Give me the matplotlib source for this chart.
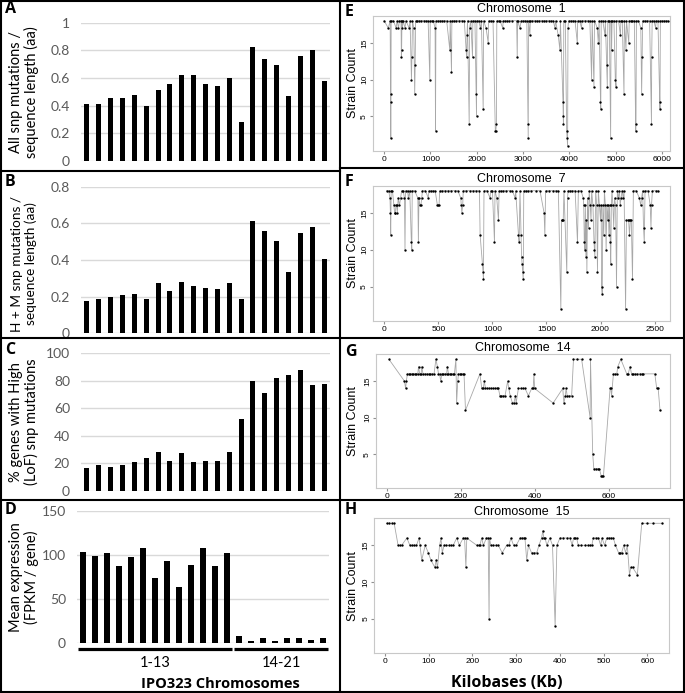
import matplotlib
matplotlib.use('Agg')
import matplotlib.pyplot as plt
import matplotlib.transforms as mtransforms
from matplotlib.lines import Line2D
import numpy as np

# Left column: per-chromosome values (chromosomes 1-21)
all_snp = [0.41, 0.41, 0.455, 0.455, 0.475, 0.395, 0.515, 0.555, 0.62, 0.625, 0.555,
           0.54, 0.60, 0.28, 0.825, 0.74, 0.695, 0.47, 0.76, 0.80, 0.58]
hm_snp = [0.178, 0.185, 0.20, 0.21, 0.215, 0.187, 0.273, 0.233, 0.278, 0.258, 0.247,
          0.244, 0.273, 0.189, 0.611, 0.558, 0.504, 0.335, 0.547, 0.582, 0.405]
high_lof = [16.3, 18.9, 17.5, 18.7, 21.1, 24.0, 27.9, 21.8, 27.2, 20.6, 21.6,
            21.6, 27.9, 52.2, 79.9, 70.9, 82.0, 84.0, 87.9, 76.9, 77.4]
mean_expr = [103.9, 98.6, 102.8, 88.0, 97.5, 107.7, 74.0, 92.9, 64.2, 88.8, 108.4,
             87.6, 102.4, 7.9, 2.6, 5.7, 3.0, 5.7, 6.0, 4.2, 6.4]
groups = ['1-13', '14-21']
group_sizes = [13, 8]

# Right column: (kilobase position, strain count)
chr1 = [(0, 18), (90, 17), (130, 18), (140, 8), (144, 2), (148, 7), (152, 18), (200, 18),
        (260, 17), (280, 18), (310, 17), (330, 18), (365, 18), (372, 13), (378, 14), (385, 18),
        (395, 17), (410, 18), (450, 17), (470, 18), (540, 17), (560, 18), (590, 10), (600, 13),
        (612, 18), (640, 17), (660, 8), (670, 12), (680, 18), (720, 18), (760, 18), (800, 18),
        (850, 18), (900, 18), (950, 18), (986, 10), (995, 18), (1030, 18), (1060, 18), (1100, 17),
        (1109, 3), (1118, 18), (1160, 18), (1200, 18), (1250, 18), (1300, 18), (1350, 18),
        (1418, 14), (1426, 18), (1454, 11), (1462, 18), (1510, 18), (1560, 18), (1620, 18),
        (1680, 18), (1730, 18), (1770, 14), (1780, 13), (1790, 16), (1800, 18), (1836, 4),
        (1845, 17), (1870, 18), (1908, 13), (1915, 18), (1960, 18), (1985, 8), (1994, 5),
        (2002, 18), (2040, 18), (2080, 17), (2100, 18), (2138, 6), (2146, 18), (2200, 17),
        (2246, 15), (2255, 18), (2300, 18), (2350, 18), (2400, 3), (2410, 3), (2425, 4),
        (2432, 18), (2470, 18), (2500, 18), (2560, 17), (2570, 18), (2610, 18), (2650, 18),
        (2700, 18), (2750, 18), (2860, 18), (2873, 13), (2880, 18), (2930, 17), (2960, 18),
        (3000, 18), (3040, 18), (3080, 18), (3105, 4), (3110, 2), (3118, 18), (3146, 16),
        (3155, 18), (3200, 18), (3250, 18), (3300, 18), (3350, 18), (3400, 18), (3450, 18),
        (3500, 18), (3550, 18), (3600, 18), (3650, 18), (3686, 17), (3700, 18), (3758, 16),
        (3794, 14), (3805, 18), (3860, 7), (3865, 5), (3870, 4), (3878, 18), (3910, 18),
        (3940, 3), (3950, 2), (3960, 1), (3968, 17), (3980, 18), (4030, 18), (4080, 18),
        (4120, 18), (4169, 15), (4178, 18), (4220, 18), (4260, 17), (4270, 18), (4330, 18),
        (4400, 18), (4440, 18), (4478, 10), (4490, 18), (4529, 9), (4540, 18), (4600, 17),
        (4622, 15), (4640, 18), (4670, 7), (4676, 6), (4685, 18), (4720, 18), (4766, 16),
        (4775, 18), (4802, 12), (4817, 9), (4828, 18), (4860, 18), (4889, 2), (4898, 18),
        (4910, 14), (4920, 18), (4960, 18), (4990, 10), (5005, 9), (5015, 18), (5060, 18),
        (5100, 16), (5110, 18), (5140, 18), (5177, 8), (5185, 18), (5220, 14), (5230, 18),
        (5280, 15), (5290, 18), (5320, 18), (5360, 18), (5400, 18), (5430, 3), (5436, 4),
        (5445, 18), (5490, 18), (5540, 17), (5558, 8), (5570, 13), (5580, 18), (5630, 18),
        (5680, 18), (5730, 18), (5770, 4), (5775, 13), (5785, 18), (5820, 18), (5860, 17),
        (5870, 18), (5910, 18), (5948, 7), (5954, 6), (5962, 18), (6000, 18), (6050, 18),
        (6090, 18), (6130, 18)]

chr7 = [(20, 18), (40, 18), (52, 17), (56, 15), (59, 12), (63, 18), (75, 18), (89, 16),
        (95, 15), (102, 15), (108, 16), (115, 16), (120, 15), (128, 17), (140, 16), (150, 17),
        (160, 18), (175, 18), (186, 17), (191, 10), (196, 18), (215, 18), (222, 17), (235, 18),
        (250, 11), (254, 10), (258, 18), (280, 18), (310, 17), (315, 11), (320, 17), (330, 16),
        (338, 16), (346, 17), (352, 18), (380, 18), (407, 17), (412, 18), (430, 18), (450, 18),
        (470, 18), (491, 16), (500, 16), (506, 16), (512, 18), (535, 18), (560, 18), (590, 18),
        (620, 18), (650, 18), (680, 18), (707, 17), (712, 16), (717, 15), (725, 16), (730, 18),
        (760, 18), (790, 18), (820, 18), (850, 18), (880, 18), (886, 12), (908, 8), (912, 7),
        (917, 6), (922, 18), (950, 18), (978, 17), (983, 18), (1000, 18), (1019, 11), (1024, 18),
        (1040, 17), (1056, 14), (1062, 18), (1080, 18), (1100, 18), (1130, 18), (1160, 18),
        (1185, 18), (1210, 17), (1215, 18), (1241, 12), (1247, 11), (1255, 18), (1265, 12),
        (1270, 9), (1275, 8), (1280, 7), (1285, 6), (1290, 18), (1310, 18), (1330, 18),
        (1360, 18), (1400, 18), (1440, 18), (1478, 15), (1485, 12), (1492, 18), (1520, 18),
        (1560, 18), (1590, 18), (1610, 18), (1633, 2), (1640, 14), (1648, 14), (1655, 14),
        (1662, 18), (1688, 7), (1695, 17), (1700, 18), (1720, 18), (1740, 18), (1765, 18),
        (1787, 11), (1795, 18), (1820, 18), (1840, 17), (1845, 16), (1850, 11), (1855, 10),
        (1860, 16), (1865, 9), (1870, 14), (1874, 7), (1880, 17), (1889, 13), (1895, 18),
        (1905, 16), (1912, 14), (1918, 18), (1930, 16), (1940, 11), (1944, 10), (1948, 9),
        (1955, 18), (1965, 16), (1972, 7), (1980, 18), (1990, 16), (2000, 14), (2006, 16),
        (2010, 5), (2016, 4), (2022, 16), (2030, 12), (2036, 18), (2045, 16), (2052, 10),
        (2058, 16), (2065, 14), (2072, 16), (2078, 12), (2084, 16), (2090, 11), (2095, 8),
        (2100, 16), (2106, 18), (2115, 16), (2122, 13), (2130, 17), (2140, 16), (2148, 5),
        (2156, 18), (2165, 17), (2175, 18), (2182, 16), (2190, 17), (2200, 18), (2210, 17),
        (2218, 18), (2232, 2), (2240, 14), (2250, 14), (2260, 14), (2268, 12), (2276, 14),
        (2285, 14), (2296, 6), (2304, 18), (2330, 18), (2360, 17), (2372, 16), (2380, 17),
        (2390, 18), (2398, 13), (2405, 11), (2412, 18), (2440, 18), (2460, 16), (2467, 13),
        (2472, 16), (2480, 18), (2510, 18), (2535, 18)]

chr14 = [(6, 18), (48, 15), (51, 14), (53, 15), (56, 16), (60, 16), (64, 16), (68, 16),
         (72, 16), (76, 16), (80, 16), (84, 16), (86, 17), (89, 16), (93, 16), (95, 17),
         (98, 16), (103, 16), (108, 16), (113, 16), (118, 16), (123, 16), (128, 16), (133, 18),
         (137, 17), (140, 16), (143, 16), (146, 15), (149, 16), (153, 16), (158, 16), (162, 16),
         (164, 17), (167, 16), (171, 16), (175, 16), (179, 16), (183, 16), (187, 18), (189, 12),
         (192, 15), (194, 16), (198, 16), (202, 16), (206, 16), (209, 16), (213, 11), (252, 16),
         (257, 14), (261, 14), (264, 15), (267, 14), (272, 14), (277, 14), (282, 14), (287, 14),
         (292, 14), (297, 14), (302, 14), (306, 13), (310, 13), (315, 13), (320, 13), (327, 15),
         (330, 14), (334, 13), (340, 12), (344, 12), (348, 13), (350, 12), (356, 14), (362, 14),
         (368, 14), (374, 14), (383, 13), (392, 14), (396, 14), (398, 16), (400, 14), (450, 12),
         (476, 14), (479, 12), (483, 13), (485, 14), (488, 13), (493, 13), (500, 13), (505, 18),
         (515, 18), (527, 18), (550, 10), (551, 18), (557, 5), (560, 3), (566, 3), (572, 3),
         (575, 3), (580, 2), (583, 2), (586, 2), (604, 14), (606, 14), (608, 13), (613, 16),
         (617, 16), (622, 16), (625, 17), (633, 18), (649, 16), (653, 16), (658, 17), (662, 16),
         (667, 16), (672, 16), (678, 16), (684, 16), (689, 16), (694, 16), (725, 16), (730, 14),
         (734, 14), (739, 11)]

chr15 = [(4, 18), (10, 18), (16, 18), (21, 18), (30, 15), (34, 15), (38, 15), (50, 16),
         (57, 15), (62, 15), (67, 15), (72, 15), (78, 16), (80, 15), (84, 13), (92, 15),
         (99, 14), (105, 13), (114, 12), (117, 13), (120, 12), (125, 15), (128, 16), (131, 14),
         (135, 15), (140, 15), (146, 15), (152, 15), (156, 15), (164, 16), (170, 15), (179, 16),
         (182, 16), (185, 12), (187, 16), (210, 15), (214, 15), (217, 15), (221, 16), (225, 15),
         (232, 16), (236, 16), (238, 5), (239, 16), (242, 15), (248, 15), (254, 15), (259, 15),
         (268, 14), (278, 15), (283, 15), (288, 16), (294, 15), (300, 15), (309, 16), (313, 16),
         (317, 16), (320, 16), (324, 13), (328, 15), (335, 14), (341, 14), (347, 14), (352, 15),
         (358, 16), (361, 17), (363, 16), (366, 16), (370, 15), (377, 16), (383, 15), (389, 4),
         (393, 15), (400, 16), (408, 16), (416, 16), (423, 16), (428, 15), (431, 16), (435, 16),
         (438, 16), (442, 15), (449, 15), (457, 15), (463, 15), (468, 15), (473, 15), (476, 16),
         (482, 16), (488, 16), (493, 15), (496, 16), (502, 15), (507, 16), (512, 16), (517, 16),
         (522, 16), (527, 15), (534, 14), (538, 14), (541, 14), (546, 15), (550, 14), (554, 15),
         (559, 11), (562, 12), (566, 12), (577, 11), (587, 18), (600, 18), (613, 18), (633, 18)]

W, H = 685, 693
fig = plt.figure(figsize=(W / 100, H / 100), dpi=100)
LEFT_FONT = ['Lato', 'DejaVu Sans']
BOLD_FONT = ['Open Sans', 'DejaVu Sans']
R_FONT = ['Liberation Sans', 'DejaVu Sans']


def px_box(l, t, r, b):
    return [l / W, 1 - b / H, (r - l) / W, (b - t) / H]


def fig_text(x, y, s, **kw):
    return fig.text(x / W, 1 - y / H, s, **kw)


def bar_panel(rect, values, ymax, step, ylabel, letter, letter_y, label_size=10.5, label_cy=None):
    ax = fig.add_axes(px_box(*rect))
    x = np.arange(len(values))
    ax.bar(x, values, width=0.42, color='black', zorder=3)
    ax.set_xlim(-0.5, len(values) - 0.5)
    ax.set_ylim(0, ymax)
    ticks = np.arange(0, ymax + step / 2, step)
    ax.set_yticks(ticks)
    ax.set_yticklabels([f'{t:g}' for t in ticks], family=LEFT_FONT)
    ax.set_xticks([])
    ax.yaxis.grid(True, color='#d9d9d9', lw=1, zorder=0)
    for s in ax.spines.values():
        s.set_visible(False)
    ax.tick_params(axis='y', length=0, pad=8, labelsize=10, labelcolor='#595959')
    cy = label_cy if label_cy is not None else (rect[1] + rect[3]) / 2
    fig_text(24, cy, ylabel, rotation=90, ha='center', va='center', fontsize=label_size,
             linespacing=1.15, family=LEFT_FONT)
    fig_text(5, letter_y, letter, ha='left', va='center', fontsize=11.5,
             fontweight='bold', family=BOLD_FONT)
    return ax


bar_panel((81, 22.7, 330, 161), all_snp, 1.0, 0.2,
          'All snp mutations /\nsequence length (aa)', 'A', 9)
bar_panel((81, 186.7, 330, 333.3), hm_snp, 0.8, 0.2,
          'H + M snp mutations /\nsequence length (aa)', 'B', 182,
          label_size=9.8, label_cy=264)
bar_panel((81, 353.3, 330, 490.7), high_lof, 100, 20,
          '% genes with High\n(LoF) snp mutations', 'C', 350)
ax_d = bar_panel((77, 511, 329, 643.3), mean_expr, 150, 50,
                 'Mean expression\n(FPKM / gene)', 'D', 510)

# grouped category axis under panel D
trans = mtransforms.blended_transform_factory(ax_d.transData, ax_d.transAxes)
start = -0.5
for name, size in zip(groups, group_sizes):
    end = start + size
    ax_d.plot([start + 0.12, end - 0.12], [-0.043, -0.043], color='black', lw=2.3,
              transform=trans, clip_on=False, solid_capstyle='butt')
    ax_d.text((start + end) / 2, -0.15, name, transform=trans, ha='center', va='center',
              fontsize=10.5, family=LEFT_FONT)
    start = end
fig_text(220, 684, 'IPO323 Chromosomes', ha='center', va='center', fontsize=10.5,
         fontweight='bold', family=BOLD_FONT)


def strain_panel(rect, points, xlim, xticks, title, letter, letter_y):
    ax = fig.add_axes(px_box(*rect))
    kb = [p[0] for p in points]
    cnt = [p[1] for p in points]
    ax.plot(kb, cnt, color='#a8a8a8', lw=0.6, zorder=2)
    ax.plot(kb, cnt, ls='none', marker='o', ms=1.7, mew=0, color='black', zorder=3)
    ax.set_xlim(xlim)
    ax.set_ylim(0.32, 18.68)
    ax.set_xticks(xticks)
    ax.set_xticklabels([str(t) for t in xticks], family=R_FONT)
    ax.set_yticks([5, 10, 15])
    ax.set_yticklabels(['5', '10', '15'], rotation=90, va='center', family=R_FONT)
    for s in ax.spines.values():
        s.set_color('#c8c8c8')
        s.set_linewidth(0.8)
    ax.tick_params(labelsize=6, length=2, pad=1.5, color='#909090')
    ax.set_title(title, fontsize=9, pad=2.5, family=R_FONT)
    cy = (rect[1] + rect[3]) / 2
    fig_text(353, cy, 'Strain Count', rotation=90, ha='center', va='center',
             fontsize=9, family=R_FONT)
    fig_text(345, letter_y, letter, ha='left', va='center', fontsize=11.5,
             fontweight='bold', family=BOLD_FONT)
    return ax


strain_panel((373, 15.7, 670, 150.7), chr1, (-240, 6170), [0, 1000, 2000, 3000, 4000, 5000, 6000],
             'Chromosome  1', 'E', 12)
strain_panel((373, 185.7, 670, 321), chr7, (-105, 2643), [0, 500, 1000, 1500, 2000, 2500],
             'Chromosome  7', 'F', 182)
strain_panel((376, 354.3, 670, 488.3), chr14, (-29, 766), [0, 200, 400, 600],
             'Chromosome  14', 'G', 352)
strain_panel((374.3, 518.3, 669.3, 653.3), chr15, (-24.4, 650), [0, 100, 200, 300, 400, 500, 600],
             'Chromosome  15', 'H', 510)
fig_text(507, 683, 'Kilobases (Kb)', ha='center', va='center', fontsize=11.5,
         fontweight='bold', family=BOLD_FONT)


# panel borders
def hline(y, x0, x1):
    fig.add_artist(Line2D([x0 / W, x1 / W], [1 - y / H, 1 - y / H],
                          transform=fig.transFigure, color='black', lw=1.5))


def vline(x, y0, y1):
    fig.add_artist(Line2D([x / W, x / W], [1 - y0 / H, 1 - y1 / H],
                          transform=fig.transFigure, color='black', lw=1.5))


hline(1, 0, W)
hline(H - 1, 0, W)
vline(1, 0, H)
vline(W - 1, 0, H)
vline(340, 0, H)
for y in [171, 338, 500]:
    hline(y, 0, 340)
for y in [168, 338, 500]:
    hline(y, 340, W)

fig.savefig('out.png', dpi=100)
